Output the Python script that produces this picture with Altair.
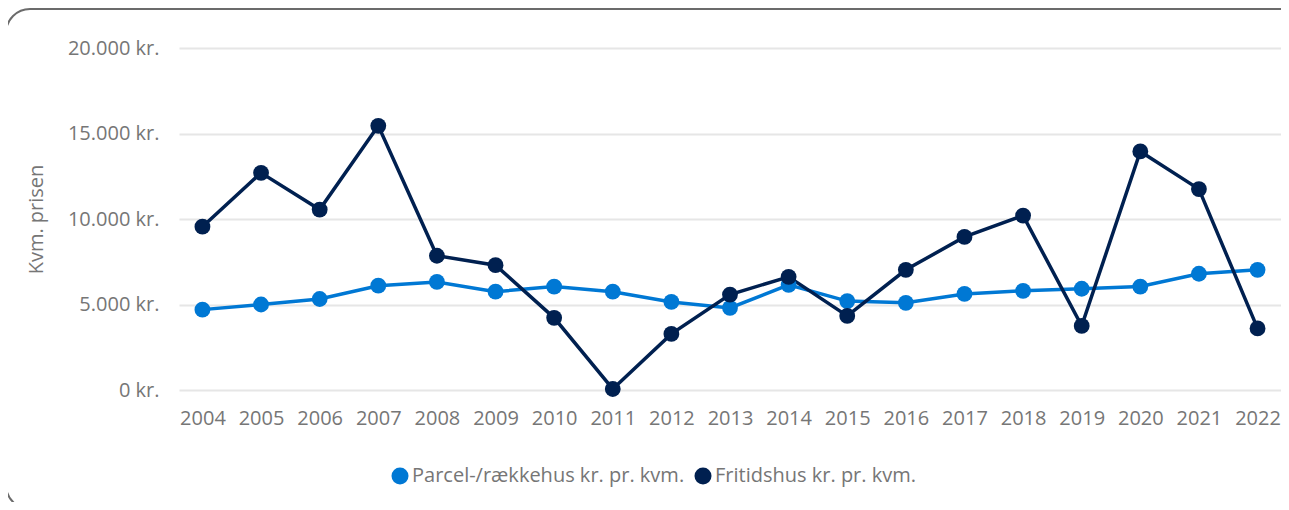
import altair as alt
import pandas as pd

years = [str(y) for y in range(2004, 2023)]
parcel = [4700, 5000, 5320, 6100, 6320, 5750, 6050, 5750, 5150, 4800, 6150, 5200, 5100, 5620, 5800, 5920, 6050, 6800, 7030]
fritid = [9550, 12700, 10550, 15450, 7850, 7300, 4220, 60, 3280, 5580, 6620, 4330, 7030, 8950, 10200, 3750, 13950, 11750, 3600]
series_names = ["Parcel-/rækkehus kr. pr. kvm.", "Fritidshus kr. pr. kvm."]
colors = ["#0078D4", "#002050"]

rows = []
for name, vals in zip(series_names, [parcel, fritid]):
    for y, v in zip(years, vals):
        rows.append({"År": y, "Serie": name, "Pris": v})
df = pd.DataFrame(rows)

FONT = "Open Sans"
GRAY = "#767676"
FS = 20

x = alt.X("År:O", scale=alt.Scale(type="point", padding=0.4),
          axis=alt.Axis(title=None, labelAngle=0, labelFontSize=FS, labelColor=GRAY,
                        labelFont=FONT, domain=False, ticks=False, labelPadding=18, grid=False))
y = alt.Y("Pris:Q", scale=alt.Scale(domain=[0, 20000]),
          axis=alt.Axis(title="Kvm. prisen", values=[0, 5000, 10000, 15000, 20000],
                        labelExpr="datum.value == 0 ? '0 kr.' : replace(format(datum.value, ','), ',', '.') + ' kr.'",
                        labelFontSize=FS, labelColor=GRAY, labelFont=FONT,
                        domain=False, ticks=False, labelPadding=20,
                        gridColor="#e6e6e6", gridWidth=2,
                        titleFont=FONT, titleFontSize=FS, titleColor=GRAY,
                        titleFontWeight="normal", titlePadding=21))
color = alt.Color("Serie:N", scale=alt.Scale(domain=series_names, range=colors),
                  sort=series_names,
                  legend=alt.Legend(title=None, orient="none", legendX=211, legendY=418,
                                    direction="horizontal", symbolType="circle", symbolSize=290,
                                    symbolStrokeWidth=0, labelFontSize=FS, labelColor=GRAY,
                                    labelFont=FONT, columnPadding=8, labelOffset=2,
                                    labelLimit=0, symbolOpacity=1))

base = alt.Chart(df)
lines = base.mark_line(strokeWidth=3.5).encode(x=x, y=y, color=color)
points = base.mark_point(filled=True, size=250, opacity=1, shape="circle").encode(
    x=x, y=y, color=alt.Color("Serie:N", scale=alt.Scale(domain=series_names, range=colors), legend=None))

border = alt.Chart(pd.DataFrame({"a": [0]})).mark_rect(
    fill=None, stroke="#6b6b6b", strokeWidth=2, cornerRadius=24, clip=False
).encode(x=alt.value(-173), x2=alt.value(1130), y=alt.value(-39), y2=alt.value(461))

chart = alt.layer(border, lines, points).properties(
    width=1102, height=342,
    autosize=alt.AutoSizeParams(type="none"),
    padding={"left": 171, "top": 40, "right": 0, "bottom": 112},
).configure(font=FONT, view=alt.ViewConfig(stroke=None))

chart.save("out.html", embed_options={"renderer": "svg", "actions": False})
